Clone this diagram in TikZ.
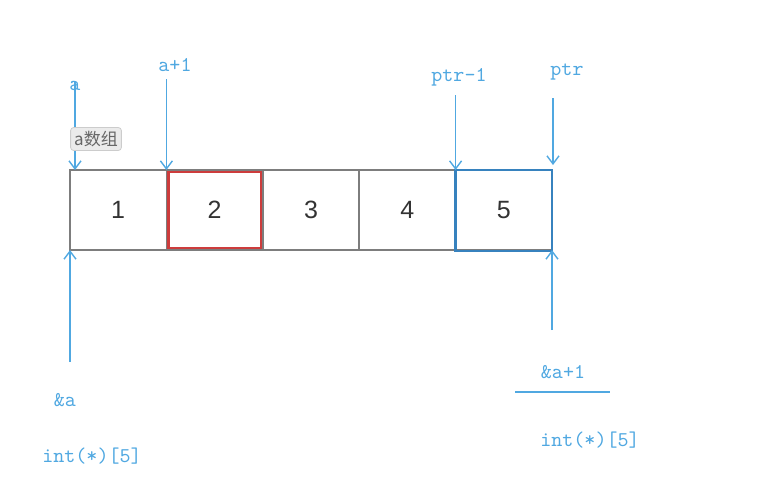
\documentclass[tikz,border=0pt]{standalone}
\usepackage{fontspec}
\setsansfont{Liberation Sans}
\newfontfamily\cjkfont{Noto Sans CJK SC}
\usetikzlibrary{positioning,arrows.meta,calc}
\definecolor{PtrBlue}{RGB}{80,168,225}
\definecolor{BoxGray}{RGB}{125,125,125}
\definecolor{BoxRed}{RGB}{205,60,60}
\definecolor{BoxBlue}{RGB}{55,130,190}

\begin{document}
\begin{tikzpicture}[
        x=0.5pt, y=-0.5pt,
        cell/.style={rectangle, draw=BoxGray, line width=0.8pt, minimum width=48.2pt,
                     minimum height=40pt, inner sep=0pt, outer sep=0pt,
                     font=\sffamily\fontsize{12.5}{14}\selectfont, text=black!80},
        ptrlabel/.style={text=PtrBlue, font=\ttfamily\fontsize{10.5}{12}\selectfont, inner sep=1pt},
        ptrarrow/.style={draw=PtrBlue, line width=0.7pt, -{Straight Barb[length=4pt,width=6pt]}},
        tagbox/.style={rectangle, rounded corners=1.5pt, draw=black!20, fill=black!8,
                       text=black!60, font=\cjkfont\fontsize{8.5}{10}\selectfont, inner sep=1.8pt}
    ]
        \useasboundingbox (0,0) rectangle (784,504);

        % array cells
        \node[cell] (c1) at (118.2,210) {1};
        \node[cell, right=0pt of c1] (c2) {2};
        \node[cell, right=0pt of c2] (c3) {3};
        \node[cell, right=0pt of c3] (c4) {4};
        \node[cell, right=0pt of c4] (c5) {5};
        \draw[BoxRed, line width=1.1pt] ([shift={(2,2)}]c2.north west) rectangle ([shift={(-2,-2)}]c2.south east);
        \draw[BoxBlue, line width=1.2pt] (c5.north west) rectangle ([shift={(0,1)}]c5.south east);

        % pointer labels
        \node[ptrlabel] (la)   at (75,86)  {a};
        \node[ptrlabel] (la1)  at (175,65) {a+1};
        \node[ptrlabel] (lp1)  at (459,77) {ptr-1};
        \node[ptrlabel] (lp)   at (567,72) {ptr};
        \node[ptrlabel] (lra)  at (65,400) {\&a};
        \node[ptrlabel] (lt1)  at (92,456) {int(*)[5]};
        \node[ptrlabel] (lra1) at (563,372) {\&a+1};
        \node[ptrlabel] (lt2)  at (590,440) {int(*)[5]};

        % arrow start points
        \coordinate (ta)  at ($(c1.north west)+(5,0)$);
        \coordinate (sa)  at ($(ta)+(0,-88)$);
        \coordinate (sa1) at ($(c2.north west)+(0,-91)$);
        \coordinate (sp1) at ($(c5.north west)+(0,-75)$);
        \coordinate (sp)  at ($(c5.north east)+(1,-72)$);
        \coordinate (ea)  at ($(c5.north east)+(1,-5)$);
        \coordinate (sra) at ($(c1.south west)+(0,112)$);
        \coordinate (sre) at ($(c5.south east)+(0,80)$);

        \path[ptrarrow] (sa)  -- (ta);
        \path[ptrarrow] (sa1) -- (c2.north west);
        \path[ptrarrow] (sp1) -- (c5.north west);
        \path[ptrarrow] (sp)  -- (ea);
        \path[ptrarrow] (sra) -- (c1.south west);
        \path[ptrarrow] (sre) -- (c5.south east);
        \draw[PtrBlue, line width=0.7pt] (515,392) -- (610,392);

        \node[tagbox] (tag) at (96,139) {a数组};
    \end{tikzpicture}
\end{document}
